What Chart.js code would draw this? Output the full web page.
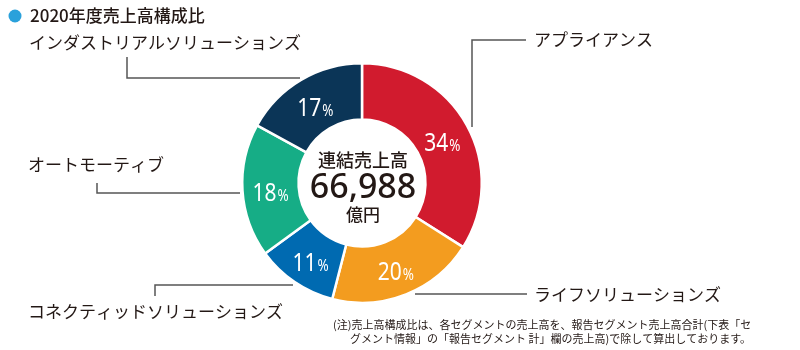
<!DOCTYPE html>
<html lang="ja">
<head>
<meta charset="utf-8">
<title>2020年度売上高構成比</title>
<script src="https://cdn.jsdelivr.net/npm/chart.js@4/dist/chart.umd.min.js"></script>
<style>
  html, body { margin: 0; padding: 0; background: #fff; }
  #wrap { width: 800px; height: 350px; }
</style>
</head>
<body>
<div id="wrap"><canvas id="chart" width="800" height="350"></canvas></div>
<script>
// Segment names and their share of consolidated net sales (%), clockwise from 12 o'clock
const segments = ['アプライアンス', 'ライフソリューションズ', 'コネクティッドソリューションズ', 'オートモーティブ', 'インダストリアルソリューションズ'];
const shares = [34, 20, 11, 18, 17];
const segmentColors = ['#D11B2E', '#F39C1F', '#006AB1', '#16AD86', '#0B3557'];

const titleText = '2020年度売上高構成比';
const centerCaption = '連結売上高';
const centerTotal = '66,988';
const centerUnit = '億円';
const footnoteLines = [
  '(注)売上高構成比は、各セグメントの売上高を、報告セグメント売上高合計(下表「セ',
  'グメント情報」の「報告セグメント 計」欄の売上高)で除して算出しております。'
];

// Callout placement for each segment name: text anchor and leader polyline
const callouts = [
  { text: { x: 534, y: 40 }, line: [[526, 40], [472, 40], [472, 127]] },
  { text: { x: 534, y: 295 }, line: [[415, 294], [527, 294]] },
  { text: { x: 28, y: 312 }, line: [[155, 296], [155, 285], [293, 285]] },
  { text: { x: 28, y: 165 }, line: [[97, 183], [97, 193], [240, 193]] },
  { text: { x: 29, y: 43 }, line: [[127, 57], [127, 78], [300, 78]] }
];

const JP = '"Noto Sans CJK JP", "Noto Sans", sans-serif';
const INK = '#231815';

// Percent labels inside each ring slice, centred on the slice centroid
const sliceLabels = {
  id: 'sliceLabels',
  afterDatasetsDraw(chart) {
    const ctx = chart.ctx;
    const meta = chart.getDatasetMeta(0);
    const values = chart.data.datasets[0].data;
    meta.data.forEach((arc, i) => {
      const p = arc.tooltipPosition();
      const num = String(values[i]);
      const sx = 0.84;
      ctx.save();
      ctx.fillStyle = '#fff';
      ctx.textBaseline = 'alphabetic';
      ctx.font = '25px "Noto Sans", sans-serif';
      const wNum = ctx.measureText(num).width * sx;
      ctx.font = '16px "Noto Sans", sans-serif';
      const wPct = ctx.measureText('%').width * sx;
      const total = wNum + wPct + 1;
      const left = p.x - total / 2;
      const base = p.y + 12;
      ctx.translate(left, base);
      ctx.scale(sx, 1);
      ctx.font = '25px "Noto Sans", sans-serif';
      ctx.textAlign = 'left';
      ctx.fillText(num, 0, 0);
      ctx.font = '16px "Noto Sans", sans-serif';
      ctx.fillText('%', (wNum + 1) / sx, 0);
      ctx.restore();
    });
  }
};

// Centre caption, callouts with leader lines, title and footnote
const annotations = {
  id: 'annotations',
  afterDraw(chart) {
    const ctx = chart.ctx;
    const arc = chart.getDatasetMeta(0).data[0];
    const cx = arc.x, cy = arc.y;

    ctx.save();
    ctx.fillStyle = INK;
    ctx.textAlign = 'center';
    ctx.textBaseline = 'middle';
    ctx.font = '500 18px ' + JP;
    ctx.fillText(centerCaption, cx + 1, cy - 23);
    ctx.font = '500 34px "Noto Sans", sans-serif';
    ctx.fillText(centerTotal, cx + 1, cy + 5);
    ctx.font = '500 17px ' + JP;
    ctx.fillText(centerUnit, cx + 1, cy + 32);
    ctx.restore();

    // leader lines
    ctx.save();
    ctx.strokeStyle = '#555';
    ctx.lineWidth = 1.5;
    callouts.forEach(c => {
      ctx.beginPath();
      c.line.forEach(([x, y], k) => (k ? ctx.lineTo(x, y) : ctx.moveTo(x, y)));
      ctx.stroke();
    });
    ctx.restore();

    // segment names
    ctx.save();
    ctx.fillStyle = INK;
    ctx.textAlign = 'left';
    ctx.textBaseline = 'middle';
    ctx.font = '17px ' + JP;
    segments.forEach((name, i) => {
      ctx.fillText(name, callouts[i].text.x, callouts[i].text.y);
    });
    ctx.restore();

    // title with bullet
    ctx.save();
    ctx.fillStyle = '#2AA1DB';
    ctx.beginPath();
    ctx.arc(15, 16, 6.5, 0, Math.PI * 2);
    ctx.fill();
    ctx.fillStyle = INK;
    ctx.textAlign = 'left';
    ctx.textBaseline = 'middle';
    ctx.font = '500 17px ' + JP;
    ctx.fillText(titleText, 30, 16);
    ctx.restore();

    // footnote
    ctx.save();
    ctx.fillStyle = INK;
    ctx.textAlign = 'left';
    ctx.textBaseline = 'middle';
    ctx.font = '11px ' + JP;
    ctx.fillText(footnoteLines[0], 333, 325);
    ctx.fillText(footnoteLines[1], 350, 339);
    ctx.restore();
  }
};

new Chart(document.getElementById('chart'), {
  type: 'doughnut',
  data: {
    labels: segments,
    datasets: [{
      data: shares,
      backgroundColor: segmentColors,
      borderColor: '#fff',
      borderWidth: 2.5,
      hoverOffset: 0
    }]
  },
  options: {
    responsive: false,
    animation: false,
    devicePixelRatio: 1,
    cutout: '53%',
    rotation: 0,
    layout: { padding: { left: 241, right: 317, top: 62, bottom: 46 } },
    plugins: {
      legend: { display: false },
      tooltip: { enabled: false }
    }
  },
  plugins: [sliceLabels, annotations]
});
</script>
</body>
</html>
